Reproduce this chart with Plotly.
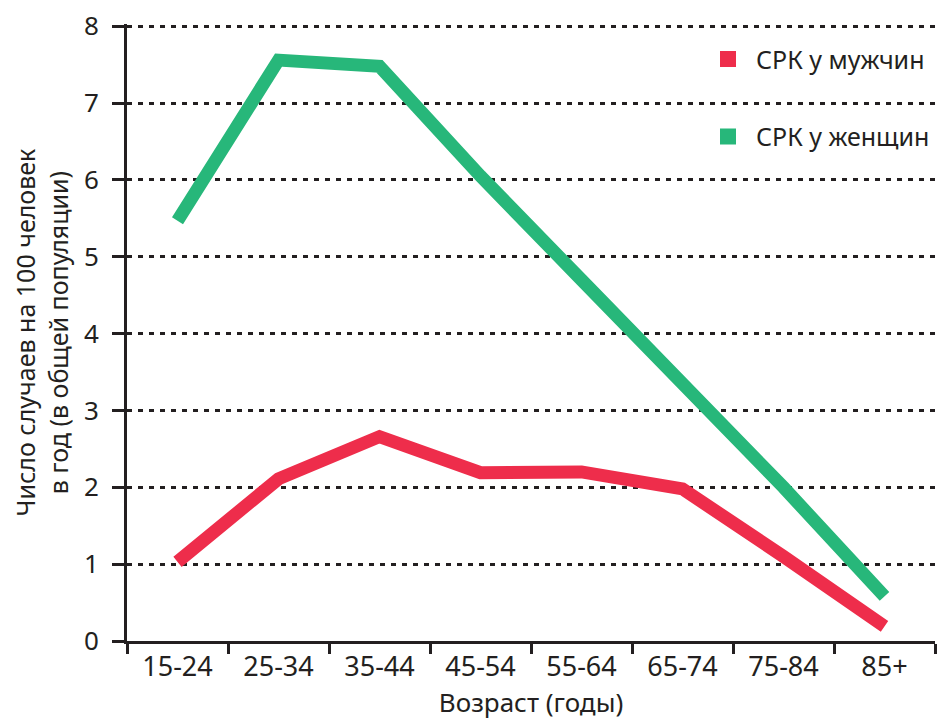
import plotly.graph_objects as go

ages = ["15-24", "25-34", "35-44", "45-54", "55-64", "65-74", "75-84", "85+"]
men = [1.03, 2.11, 2.66, 2.19, 2.2, 1.98, 1.1, 0.19]
women = [5.47, 7.56, 7.48, 6.05, 4.7, 3.35, 2.0, 0.58]
y_ticks = [0, 1, 2, 3, 4, 5, 6, 7, 8]

RED = "#ee2d4b"
GREEN = "#27b77a"
INK = "#231f20"
FONT = "Noto Sans"

fig = go.Figure()
fig.add_trace(go.Scatter(x=ages, y=women, mode="lines", line=dict(color=GREEN, width=13),
                         showlegend=False, hoverinfo="skip"))
fig.add_trace(go.Scatter(x=ages, y=men, mode="lines", line=dict(color=RED, width=13),
                         showlegend=False, hoverinfo="skip"))
# legend entries
fig.add_trace(go.Scatter(x=[None], y=[None], mode="markers", name="СРК у мужчин",
                         marker=dict(symbol="square", size=22, color=RED), legendgroup="m"))
fig.add_trace(go.Scatter(x=[None], y=[None], mode="markers", name="СРК у женщин",
                         marker=dict(symbol="square", size=22, color=GREEN), legendgroup="w"))

# the page body adds an 8px margin, so the figure is 8px smaller than the window
fig.update_layout(
    width=938, height=712,
    margin=dict(l=119, r=11, t=16, b=79),
    plot_bgcolor="white", paper_bgcolor="white",
    font=dict(family=FONT, size=26, color=INK),
    legend=dict(x=1.0, xanchor="right", y=0.98, yanchor="top",
                font=dict(size=25, color=INK), tracegroupgap=42,
                itemwidth=46, bgcolor="rgba(0,0,0,0)"),
    xaxis=dict(
        type="category", categoryorder="array", categoryarray=ages,
        range=[-0.5, 7.5], tickson="boundaries", ticks="outside", ticklen=10,
        tickwidth=3, tickcolor=INK, showline=True, linewidth=3, linecolor=INK,
        showgrid=False, tickfont=dict(size=27, color=INK), automargin=False,
        title=dict(text="Возраст (годы)", font=dict(size=26, color=INK), standoff=12),
        fixedrange=True,
    ),
    yaxis=dict(
        range=[0, 8.03], tickvals=y_ticks, ticks="outside", ticklen=12, tickwidth=3,
        tickcolor=INK, showline=True, linewidth=3, linecolor=INK,
        showgrid=True, gridcolor=INK, gridwidth=2.5, griddash="5px,6px",
        zeroline=False, tickfont=dict(size=26, color=INK), automargin=False,
        ticklabelstandoff=8, ticklabeloverflow="allow",
        title=dict(text="Число случаев на 100 человек<br>в год (в общей популяции)",
                   font=dict(size=25, color=INK), standoff=10),
        fixedrange=True,
    ),
)

fig.write_html("out.html")
